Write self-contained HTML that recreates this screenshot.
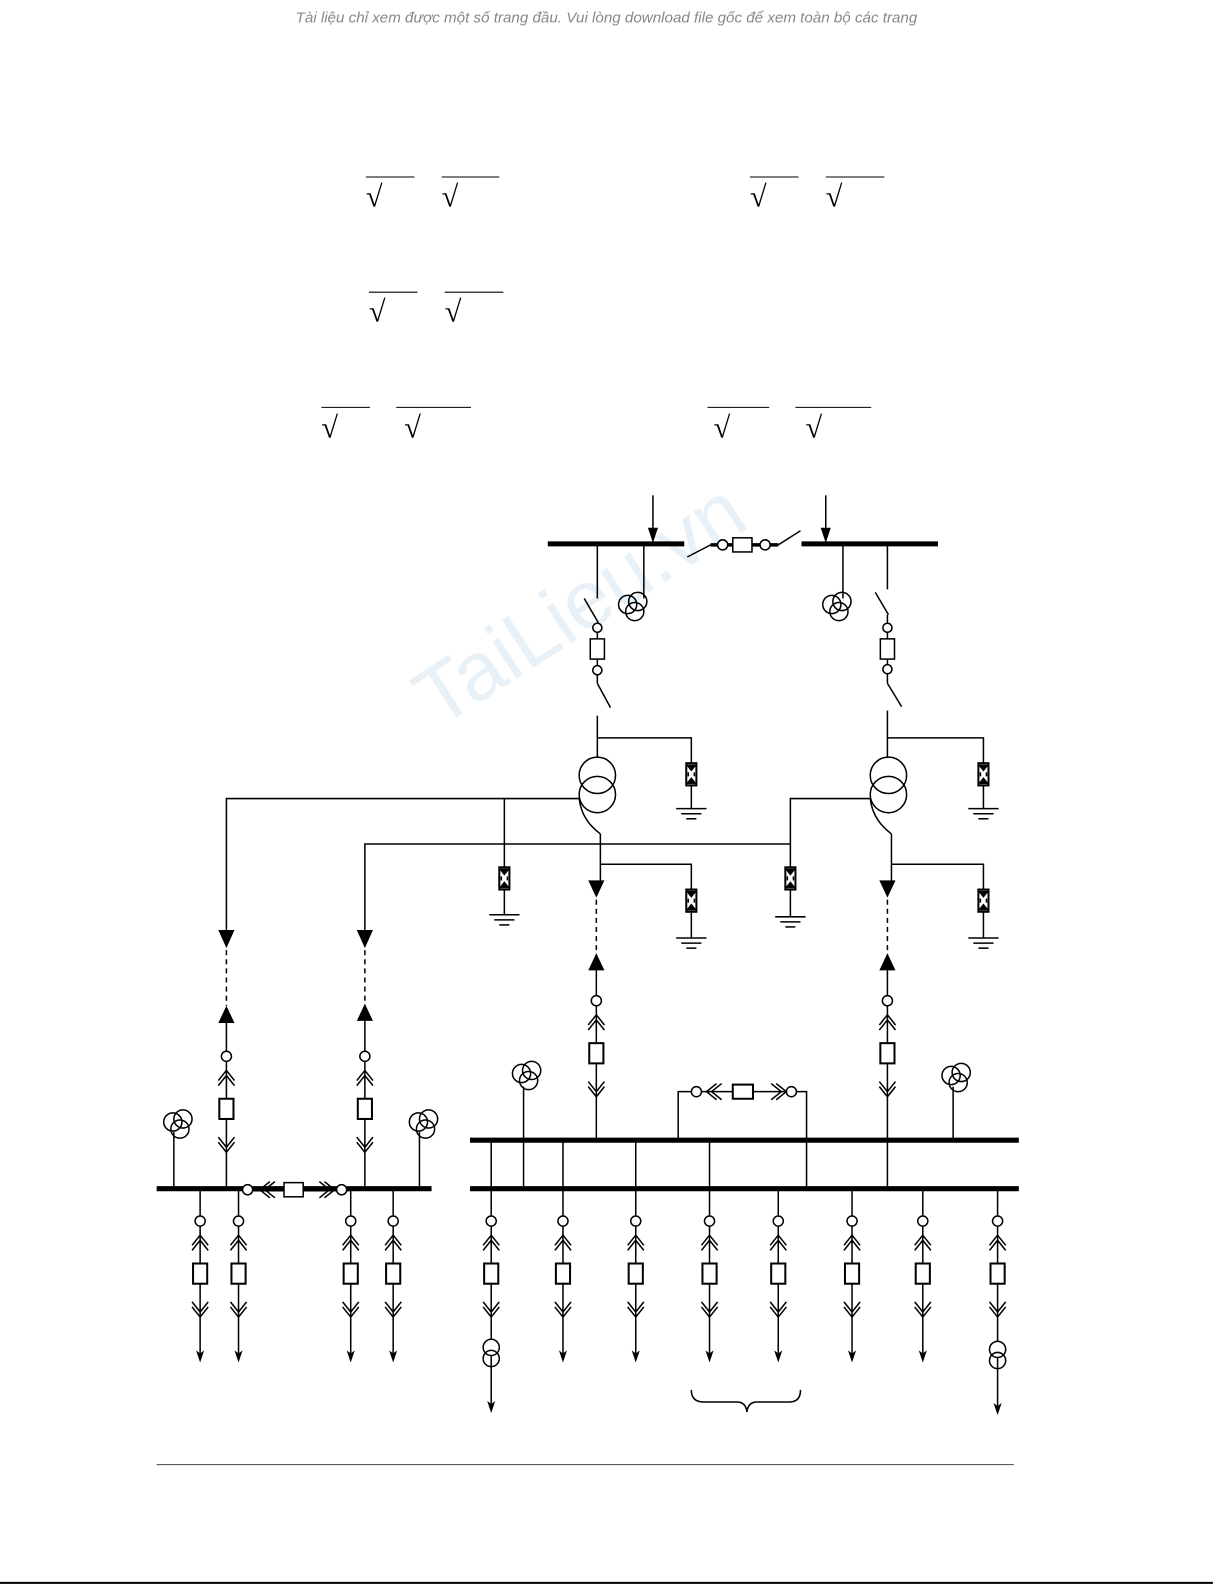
<!DOCTYPE html>
<html><head><meta charset="utf-8"><style>
html,body{margin:0;padding:0;background:#fff;}
svg{display:block;}
</style></head><body>
<svg width="1225" height="1585" viewBox="0 0 1212 1568" xmlns="http://www.w3.org/2000/svg">
<defs>
<g id="fd" fill="none" stroke="#000" stroke-width="1.5">
<circle r="5" fill="#fff"/>
<polyline points="-8,24 0,14 8,24"/><polyline points="-8,29 0,19 8,29"/>
<rect x="-7" y="42" width="14" height="20" fill="#fff" stroke-width="2"/>
<polyline points="-8,80 0,90 8,80"/><polyline points="-8,85 0,95 8,85"/>
</g>
<g id="vt" fill="none" stroke="#000" stroke-width="1.5">
<circle cx="-5" cy="-2" r="9"/><circle cx="5" cy="-5" r="9"/><circle cx="2" cy="5" r="9"/>
</g>
<g id="ar">
<rect x="-5" y="0" width="10" height="22" fill="#fff" stroke="#000" stroke-width="2"/>
<polygon points="-4,2 4,2 0,7" fill="#000"/><polygon points="-4,20 4,20 0,15" fill="#000"/>
<line x1="-3" y1="9" x2="-3" y2="13" stroke="#000"/><line x1="3" y1="9" x2="3" y2="13" stroke="#000"/>
</g>
<g id="gnd" stroke="#000" stroke-width="1.5">
<line x1="-15" y1="0" x2="15" y2="0"/><line x1="-10" y1="5" x2="10" y2="5"/><line x1="-5" y1="10" x2="5" y2="10"/>
</g>
<polygon id="ah" points="-4,-12 0,0 4,-12 0,-9" fill="#000"/>
</defs>

<text x="600" y="22" text-anchor="middle" font-family="Liberation Sans, sans-serif" font-style="italic" font-size="15" fill="#888">Tài liệu chỉ xem được một số trang đầu. Vui lòng download file gốc để xem toàn bộ các trang</text>

<text x="575" y="625" text-anchor="middle" font-family="Liberation Sans, sans-serif" font-size="82" fill="#e8f1f8" transform="rotate(-33 575 600)">TaiLieu.vn</text>

<!-- radicals -->
<g font-family="Liberation Serif, serif" font-size="30" fill="#000" stroke="#000" stroke-width="1">
<text x="362" y="204" stroke="none">√</text><line x1="362" y1="175" x2="410" y2="175"/>
<text x="437" y="204" stroke="none">√</text><line x1="437" y1="175" x2="494" y2="175"/>
<text x="742" y="204" stroke="none">√</text><line x1="742" y1="175" x2="790" y2="175"/>
<text x="817" y="204" stroke="none">√</text><line x1="817" y1="175" x2="875" y2="175"/>
<text x="365" y="318" stroke="none">√</text><line x1="365" y1="289" x2="413" y2="289"/>
<text x="440" y="318" stroke="none">√</text><line x1="440" y1="289" x2="498" y2="289"/>
<text x="318" y="433" stroke="none">√</text><line x1="318" y1="403" x2="366" y2="403"/>
<text x="400" y="433" stroke="none">√</text><line x1="392" y1="403" x2="466" y2="403"/>
<text x="706" y="433" stroke="none">√</text><line x1="700" y1="403" x2="761" y2="403"/>
<text x="797" y="433" stroke="none">√</text><line x1="787" y1="403" x2="862" y2="403"/>
</g>

<g fill="none" stroke="#000" stroke-width="1.5">
<line x1="542" y1="538" x2="677" y2="538" stroke-width="5"/>
<line x1="793" y1="538" x2="928" y2="538" stroke-width="5"/>
<line x1="646" y1="490" x2="646" y2="530"/><line x1="817" y1="490" x2="817" y2="530"/>
<line x1="703" y1="539" x2="770" y2="539" stroke-width="3.5"/>
<line x1="680" y1="551" x2="703" y2="539"/><line x1="770" y1="539" x2="792" y2="525"/>
<circle cx="715" cy="539" r="5" fill="#fff"/><circle cx="757" cy="539" r="5" fill="#fff"/>
<rect x="725" y="532" width="19" height="14" fill="#fff"/>

<line x1="591" y1="538" x2="591" y2="592"/>
<line x1="578" y1="592" x2="592" y2="616"/>
<line x1="591" y1="616" x2="591" y2="676"/>
<circle cx="591" cy="621" r="4.5" fill="#fff"/><rect x="584" y="632" width="14" height="20" fill="#fff"/><circle cx="591" cy="663" r="4.5" fill="#fff"/>
<line x1="591" y1="676" x2="604" y2="700"/>
<line x1="591" y1="708" x2="591" y2="749"/>
<line x1="637" y1="538" x2="637" y2="592"/>
<use href="#vt" x="626" y="600"/>
<polyline points="591,730 684,730 684,755"/>
<use href="#ar" x="684" y="755"/><line x1="684" y1="777" x2="684" y2="800"/><use href="#gnd" x="684" y="800"/>

<line x1="878" y1="538" x2="878" y2="583"/>
<line x1="866" y1="586" x2="879" y2="608"/>
<line x1="878" y1="608" x2="878" y2="676"/>
<circle cx="878" cy="621" r="4.5" fill="#fff"/><rect x="871" y="632" width="14" height="20" fill="#fff"/><circle cx="878" cy="662" r="4.5" fill="#fff"/>
<line x1="878" y1="676" x2="892" y2="699"/>
<line x1="878" y1="703" x2="878" y2="749"/>
<line x1="834" y1="538" x2="834" y2="592"/>
<use href="#vt" x="828" y="600"/>
<polyline points="878,730 973,730 973,755"/>
<use href="#ar" x="973" y="755"/><line x1="973" y1="777" x2="973" y2="800"/><use href="#gnd" x="973" y="800"/>

<circle cx="591" cy="767" r="18"/><circle cx="591" cy="786" r="18"/>
<path d="M573,790 C575,808 585,818 594,825"/>
<line x1="594" y1="825" x2="594" y2="872"/>
<circle cx="879" cy="767" r="18"/><circle cx="879" cy="786" r="18"/>
<path d="M861,790 C863,808 873,818 882,825"/>
<line x1="882" y1="825" x2="882" y2="872"/>

<polyline points="573,790 224,790 224,920"/>
<line x1="499" y1="790" x2="499" y2="858"/>
<use href="#ar" x="499" y="858"/><line x1="499" y1="880" x2="499" y2="905"/><use href="#gnd" x="499" y="905"/>
<polyline points="782,835 361,835 361,920"/>
<polyline points="861,790 782,790 782,858"/>
<use href="#ar" x="782" y="858"/><line x1="782" y1="880" x2="782" y2="907"/><use href="#gnd" x="782" y="907"/>
<polyline points="594,855 684,855 684,880"/>
<use href="#ar" x="684" y="880"/><line x1="684" y1="902" x2="684" y2="928"/><use href="#gnd" x="684" y="928"/>
<polyline points="882,855 973,855 973,880"/>
<use href="#ar" x="973" y="880"/><line x1="973" y1="902" x2="973" y2="928"/><use href="#gnd" x="973" y="928"/>

<g stroke-dasharray="5,4"><line x1="224" y1="940" x2="224" y2="995"/><line x1="361" y1="940" x2="361" y2="995"/>
<line x1="590" y1="890" x2="590" y2="945"/><line x1="878" y1="890" x2="878" y2="945"/></g>

<line x1="224" y1="1010" x2="224" y2="1176"/><use href="#fd" x="224" y="1045"/>
<line x1="361" y1="1010" x2="361" y2="1176"/><use href="#fd" x="361" y="1045"/>
<line x1="590" y1="960" x2="590" y2="1128"/><use href="#fd" x="590" y="990"/>
<line x1="878" y1="960" x2="878" y2="1176"/><use href="#fd" x="878" y="990"/>

<line x1="155" y1="1176" x2="427" y2="1176" stroke-width="5"/>
<line x1="172" y1="1120" x2="172" y2="1176"/><use href="#vt" x="176" y="1112"/>
<line x1="415" y1="1120" x2="415" y2="1176"/><use href="#vt" x="419" y="1112"/>
<line x1="240" y1="1177" x2="345" y2="1177" stroke-width="3.5"/>
<circle cx="245" cy="1177" r="5" fill="#fff"/><circle cx="338" cy="1177" r="5" fill="#fff"/>
<polyline points="267,1169 257,1177 267,1185"/><polyline points="272,1169 262,1177 272,1185"/>
<polyline points="316,1169 326,1177 316,1185"/><polyline points="321,1169 331,1177 321,1185"/>
<rect x="281" y="1170" width="19" height="14" fill="#fff"/>

<line x1="465" y1="1128" x2="1008" y2="1128" stroke-width="5"/>
<line x1="465" y1="1176" x2="1008" y2="1176" stroke-width="5"/>
<line x1="486" y1="1128" x2="486" y2="1176"/>
<line x1="518" y1="1075" x2="518" y2="1176"/><use href="#vt" x="521" y="1064"/>
<line x1="557" y1="1128" x2="557" y2="1176"/>
<line x1="629" y1="1128" x2="629" y2="1176"/>
<line x1="702" y1="1128" x2="702" y2="1176"/>
<line x1="943" y1="1075" x2="943" y2="1128"/><use href="#vt" x="946" y="1066"/>
<polyline points="671,1128 671,1080 798,1080 798,1176"/>
<circle cx="689" cy="1080" r="5" fill="#fff"/><circle cx="783" cy="1080" r="5" fill="#fff"/>
<polyline points="709,1072 699,1080 709,1088"/><polyline points="714,1072 704,1080 714,1088"/>
<polyline points="763,1072 773,1080 763,1088"/><polyline points="768,1072 778,1080 768,1088"/>
<rect x="725" y="1073" width="20" height="14" fill="#fff" stroke-width="2"/>

<line x1="198" y1="1176" x2="198" y2="1345"/><use href="#fd" x="198" y="1208"/>
<line x1="236" y1="1176" x2="236" y2="1345"/><use href="#fd" x="236" y="1208"/>
<line x1="347" y1="1176" x2="347" y2="1345"/><use href="#fd" x="347" y="1208"/>
<line x1="389" y1="1176" x2="389" y2="1345"/><use href="#fd" x="389" y="1208"/>
<line x1="486" y1="1176" x2="486" y2="1395"/><use href="#fd" x="486" y="1208"/>
<line x1="557" y1="1176" x2="557" y2="1345"/><use href="#fd" x="557" y="1208"/>
<line x1="629" y1="1176" x2="629" y2="1345"/><use href="#fd" x="629" y="1208"/>
<line x1="702" y1="1176" x2="702" y2="1345"/><use href="#fd" x="702" y="1208"/>
<line x1="770" y1="1176" x2="770" y2="1345"/><use href="#fd" x="770" y="1208"/>
<line x1="843" y1="1176" x2="843" y2="1345"/><use href="#fd" x="843" y="1208"/>
<line x1="913" y1="1176" x2="913" y2="1345"/><use href="#fd" x="913" y="1208"/>
<line x1="987" y1="1176" x2="987" y2="1397"/><use href="#fd" x="987" y="1208"/>
<circle cx="486" cy="1333" r="8" fill="#fff"/><circle cx="486" cy="1344" r="8"/>
<circle cx="987" cy="1335" r="8" fill="#fff"/><circle cx="987" cy="1346" r="8"/>

<path d="M684,1375 Q684,1387 696,1387 L729,1387 Q738,1387 739,1397 Q740,1387 749,1387 L781,1387 Q792,1387 792,1375"/>

<line x1="155" y1="1449" x2="1003" y2="1449" stroke-width="1" stroke="#444"/>
<line x1="0" y1="1566" x2="1200" y2="1566" stroke-width="2"/>
</g>

<g fill="#000">
<polygon points="641,522 651,522 646,537"/><polygon points="812,522 822,522 817,537"/>
<polygon points="216,920 232,920 224,938"/><polygon points="353,920 369,920 361,938"/>
<polygon points="582,871 598,871 590,888"/><polygon points="870,871 886,871 878,888"/>
<polygon points="224,995 216,1012 232,1012"/><polygon points="361,993 353,1010 369,1010"/>
<polygon points="590,943 582,960 598,960"/><polygon points="878,943 870,960 886,960"/>
</g>
<use href="#ah" x="198" y="1348"/><use href="#ah" x="236" y="1348"/><use href="#ah" x="347" y="1348"/><use href="#ah" x="389" y="1348"/>
<use href="#ah" x="557" y="1348"/><use href="#ah" x="629" y="1348"/><use href="#ah" x="702" y="1348"/><use href="#ah" x="770" y="1348"/>
<use href="#ah" x="843" y="1348"/><use href="#ah" x="913" y="1348"/>
<use href="#ah" x="486" y="1398"/><use href="#ah" x="987" y="1400"/>
</svg>
</body></html>
